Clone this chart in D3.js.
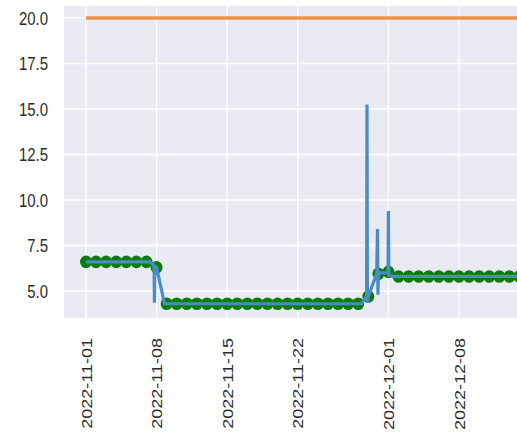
<!DOCTYPE html>
<html>
<head>
<meta charset="utf-8">
<script src="https://cdn.jsdelivr.net/npm/d3@7/dist/d3.min.js"></script>
<style>
  body { margin: 0; background: #fff; }
  svg { display: block; font-family: "Liberation Sans", Arial, sans-serif; }
</style>
</head>
<body>
<div id="chart"></div>
<script>
// chart size
const width = 517;
const height = 436;

// daily samples (green dots)
const dotDates = [
  "2022-11-01", "2022-11-02", "2022-11-03", "2022-11-04", "2022-11-05", "2022-11-06", "2022-11-07",
  "2022-11-08", "2022-11-09", "2022-11-10", "2022-11-11", "2022-11-12", "2022-11-13", "2022-11-14",
  "2022-11-15", "2022-11-16", "2022-11-17", "2022-11-18", "2022-11-19", "2022-11-20", "2022-11-21",
  "2022-11-22", "2022-11-23", "2022-11-24", "2022-11-25", "2022-11-26", "2022-11-27", "2022-11-28",
  "2022-11-29", "2022-11-30", "2022-12-01", "2022-12-02", "2022-12-03", "2022-12-04", "2022-12-05",
  "2022-12-06", "2022-12-07", "2022-12-08", "2022-12-09", "2022-12-10", "2022-12-11", "2022-12-12",
  "2022-12-13", "2022-12-14", "2022-12-15"
];
const dotValues = [
  6.6, 6.6, 6.6, 6.6, 6.6, 6.6, 6.6,
  6.3, 4.3, 4.3, 4.3, 4.3, 4.3, 4.3,
  4.3, 4.3, 4.3, 4.3, 4.3, 4.3, 4.3,
  4.3, 4.3, 4.3, 4.3, 4.3, 4.3, 4.3,
  4.7, 5.95, 6.05, 5.8, 5.8, 5.8, 5.8,
  5.8, 5.8, 5.8, 5.8, 5.8, 5.8, 5.8,
  5.8, 5.8, 5.8
];

// raw readings (blue line)
const rawTimes = [
  "2022-11-01T00:00", "2022-11-07T08:00", "2022-11-07T18:00", "2022-11-07T19:00",
  "2022-11-07T20:00", "2022-11-08T00:00", "2022-11-08T19:00", "2022-11-28T08:00",
  "2022-11-28T20:00", "2022-11-28T21:00", "2022-11-28T22:00", "2022-11-29T00:00",
  "2022-11-29T20:00", "2022-11-29T22:00", "2022-11-29T23:00", "2022-11-30T00:00",
  "2022-11-30T23:00", "2022-12-01T00:00", "2022-12-01T01:00", "2022-12-01T10:00",
  "2022-12-15T00:00"
];
const rawValues = [
  6.6, 6.6, 6.4, 4.35,
  6.3, 6.3, 4.3, 4.3,
  4.75, 15.25, 4.35, 4.7,
  5.95, 8.4, 4.8, 6.0,
  6.0, 9.4, 5.85, 5.8,
  5.8
];

// limit line (orange)
const limitDates = ["2022-11-01", "2022-12-15"];
const limitValues = [20, 20];

// tick labels
const xTicks = ["2022-11-01", "2022-11-08", "2022-11-15", "2022-11-22", "2022-12-01", "2022-12-08"];
const yTicks = [5, 7.5, 10, 12.5, 15, 17.5, 20];

const parseDay = d3.timeParse("%Y-%m-%d");
const parseTime = d3.timeParse("%Y-%m-%dT%H:%M");

// plot area (right side runs off the picture)
const plotLeft = 64, plotTop = 6, plotBottom = 318, plotRight = 560;

const x = d3.scaleTime()
    .domain([parseDay("2022-11-01"), parseDay("2022-12-08")])
    .range([86, 459]);

const y = d3.scaleLinear()
    .domain([3.516, 20.66])
    .range([plotBottom, plotTop]);

const svg = d3.select("#chart")
    .append("svg")
    .attr("width", width)
    .attr("height", height);

// seaborn-like background
svg.append("rect")
    .attr("x", plotLeft)
    .attr("y", plotTop)
    .attr("width", plotRight - plotLeft)
    .attr("height", plotBottom - plotTop)
    .attr("fill", "#eaeaf2");

// grid
const grid = svg.append("g");
grid.selectAll(".gx")
    .data(xTicks.map(parseDay))
    .enter().append("line")
    .attr("x1", d => x(d)).attr("x2", d => x(d))
    .attr("y1", plotTop).attr("y2", plotBottom)
    .attr("stroke", "#fff").attr("stroke-width", 1.3);
grid.selectAll(".gy")
    .data(yTicks)
    .enter().append("line")
    .attr("x1", plotLeft).attr("x2", plotRight)
    .attr("y1", d => y(d)).attr("y2", d => y(d))
    .attr("stroke", "#fff").attr("stroke-width", 1.3);

// axes
const yAxis = svg.append("g")
    .attr("transform", `translate(${plotLeft},0)`)
    .call(d3.axisLeft(y).tickValues(yTicks).tickSize(0).tickFormat(d3.format(".1f")));
yAxis.select(".domain").remove();
yAxis.selectAll("text")
    .attr("x", 0)
    .attr("dy", "0.34em")
    .attr("transform", "translate(-16,0) scale(0.83,1)")
    .attr("text-anchor", "end")
    .attr("fill", "#2b2b2b")
    .style("font-size", "18px");

const xAxis = svg.append("g")
    .attr("transform", `translate(0,${plotBottom})`)
    .call(d3.axisBottom(x).tickValues(xTicks.map(parseDay)).tickSize(0).tickFormat(d3.timeFormat("%Y-%m-%d")));
xAxis.select(".domain").remove();
xAxis.selectAll("text")
    .attr("x", 0)
    .attr("y", 0)
    .attr("dy", "0.35em")
    .attr("transform", "translate(0,20) scale(0.83,1) rotate(-90)")
    .attr("text-anchor", "end")
    .attr("fill", "#2b2b2b")
    .style("font-size", "18px");

// data layers
const plot = svg.append("g");

// limit line
const limit = limitDates.map((d, i) => ({ t: parseDay(d), v: limitValues[i] }));
plot.append("path")
    .datum(limit)
    .attr("d", d3.line().x(d => x(d.t)).y(d => y(d.v)))
    .attr("fill", "none")
    .attr("stroke", "#f2914a")
    .attr("stroke-width", 3.6);

// daily dots
const dots = dotDates.map((d, i) => ({ t: parseDay(d), v: dotValues[i] }));
plot.selectAll("ellipse")
    .data(dots)
    .enter().append("ellipse")
    .attr("cx", d => x(d.t))
    .attr("cy", d => y(d.v))
    .attr("rx", 6)
    .attr("ry", 6.3)
    .attr("fill", "#0a7d0a");

// raw line on top
const raw = rawTimes.map((d, i) => ({ t: parseTime(d), v: rawValues[i] }));
plot.append("path")
    .datum(raw)
    .attr("d", d3.line().x(d => x(d.t)).y(d => y(d.v)))
    .attr("fill", "none")
    .attr("stroke", "#4a8dc4")
    .attr("stroke-width", 3.2);
</script>
</body>
</html>
